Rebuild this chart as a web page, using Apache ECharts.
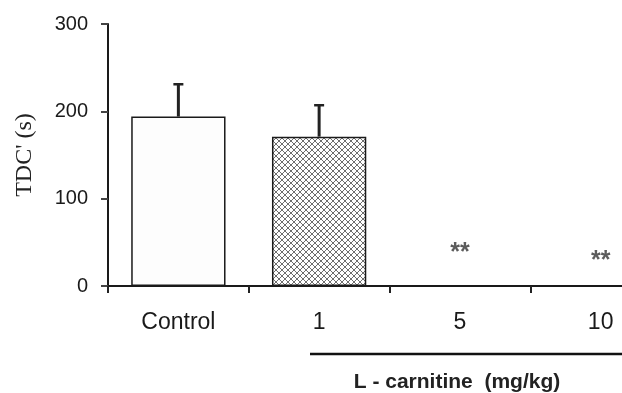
<!DOCTYPE html>
<html><head><meta charset="utf-8">
<script src="https://cdn.jsdelivr.net/npm/echarts@6/dist/echarts.min.js"></script>
<style>html,body{margin:0;padding:0;background:#fff}#c{width:622px;height:393px}</style>
</head><body><div id="c"></div>
<script>
const categories = ['Control', '1', '5', '10'];
const means = [194, 171, 0, 0];
const sd = [37, 36, 0, 0];
const sigLabels = ['', '', '**', '**'];
const sigPos = [null, null, 38, 29];
const yTicks = [0, 100, 200, 300];

const pc = document.createElement('canvas');
pc.width = 6; pc.height = 6;
const g = pc.getContext('2d');
g.fillStyle = '#ffffff'; g.fillRect(0, 0, 6, 6);
g.strokeStyle = '#6e6e6e'; g.lineWidth = 1;
g.beginPath(); g.moveTo(0, 0); g.lineTo(6, 6); g.moveTo(6, 0); g.lineTo(0, 6); g.stroke();

const barColors = ['#fdfdfd', {image: pc, repeat: 'repeat'}, '#fdfdfd', '#fdfdfd'];

const chart = echarts.init(document.getElementById('c'));
chart.setOption({
  animation: false,
  grid: {left: 108, width: 563, top: 24, bottom: 107, containLabel: false, outerBoundsMode: 'none'},
  xAxis: {
    type: 'category', data: categories,
    axisLine: {lineStyle: {color: '#1a1a1a', width: 2}},
    axisTick: {show: true, length: 7, lineStyle: {color: '#222', width: 2}},
    axisLabel: {fontFamily: 'Liberation Sans, Arial', fontSize: 23, color: '#1a1a1a', margin: 25}
  },
  yAxis: {
    type: 'value', min: yTicks[0], max: yTicks[yTicks.length - 1], interval: 100,
    splitLine: {show: false},
    axisLine: {show: true, lineStyle: {color: '#1a1a1a', width: 2}},
    axisTick: {show: true, length: 7, lineStyle: {color: '#444', width: 2}},
    axisLabel: {fontFamily: 'Liberation Sans, Arial', fontSize: 20, color: '#1a1a1a', margin: 20},
    name: "TDC' (s)", nameLocation: 'middle', nameGap: 71, nameRotate: 90,
    nameTextStyle: {fontFamily: 'Liberation Serif, Times New Roman, serif', fontSize: 24, color: '#222'}
  },
  series: [
    {
      type: 'bar', barWidth: '67%',
      data: means.map((v, i) => ({value: v, itemStyle: {color: barColors[i], borderColor: '#1a1a1a', borderWidth: 1.5}}))
    },
    {
      type: 'custom',
      data: means.map((v, i) => [i, v, sd[i]]),
      renderItem: function (params, api) {
        const s = api.value(2);
        if (!s) return null;
        const base = api.coord([api.value(0), api.value(1)]);
        const top = api.coord([api.value(0), api.value(1) + s]);
        return {type: 'group', children: [
          {type: 'line', shape: {x1: base[0], y1: base[1], x2: top[0], y2: top[1]}, style: {stroke: '#222', lineWidth: 3}},
          {type: 'line', shape: {x1: top[0] - 5, y1: top[1], x2: top[0] + 5, y2: top[1]}, style: {stroke: '#222', lineWidth: 2.5}}
        ]};
      },
      z: 5
    },
    {
      type: 'scatter', symbolSize: 0,
      data: sigPos.map((p, i) => p === null ? null : {value: [i, p], label: {show: true, formatter: sigLabels[i]}}).filter(d => d),
      label: {position: 'inside', fontFamily: 'Liberation Sans, Arial', fontSize: 25, fontWeight: 'bold', color: '#333'}
    }
  ],
  graphic: [
    {type: 'line', shape: {x1: 310, y1: 354, x2: 622, y2: 354}, style: {stroke: '#111', lineWidth: 2.5}},
    {type: 'text', x: 457, y: 382, style: {text: 'L - carnitine  (mg/kg)', font: 'bold 21px "Liberation Sans", Arial', fill: '#222', align: 'center', verticalAlign: 'middle'}}
  ]
});
</script></body></html>
